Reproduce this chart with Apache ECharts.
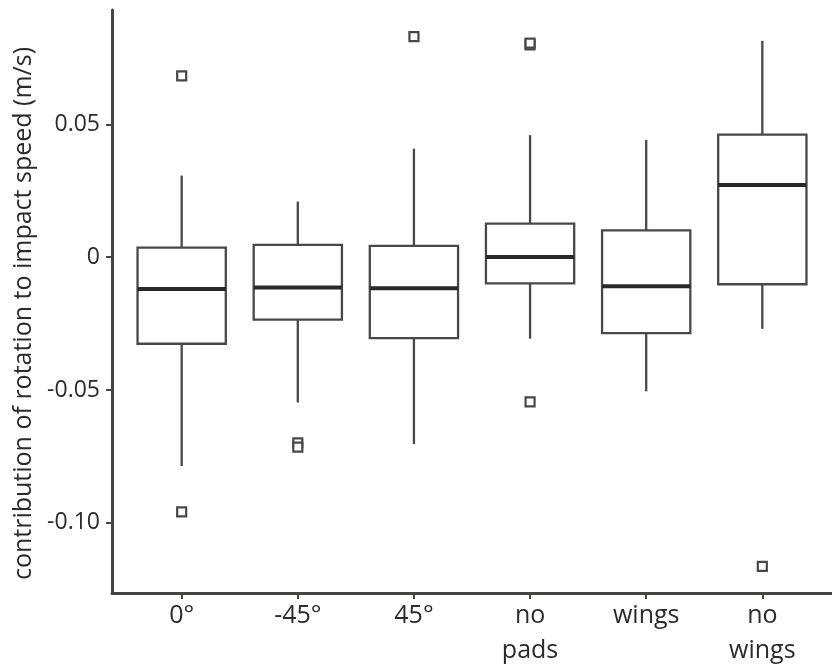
<!DOCTYPE html>
<html>
<head>
<meta charset="utf-8">
<script src="https://cdn.jsdelivr.net/npm/echarts@6/dist/echarts.min.js"></script>
<style>
  html, body { margin: 0; padding: 0; background: #fff; }
  #chart { width: 832px; height: 668px; }
</style>
</head>
<body>
<div id="chart"></div>
<script>
// ---- data ----
const categories = ['0°', '-45°', '45°', 'no\npads', 'wings', 'no\nwings'];
const whiskerLow  = [-0.0786, -0.0547, -0.0704, -0.0307, -0.0505, -0.0270];
const q1          = [-0.0326, -0.0235, -0.0305, -0.0099, -0.0286, -0.0102];
const median      = [-0.0120, -0.0114, -0.0117,  0.0000, -0.0110,  0.0271];
const q3          = [ 0.0036,  0.0046,  0.0042,  0.0126,  0.0101,  0.0461];
const whiskerHigh = [ 0.0307,  0.0209,  0.0408,  0.0459,  0.0441,  0.0814];
const outlierCategory = [0, 0, 1, 1, 2, 3, 3, 3, 5];
const outlierValue    = [0.0682, -0.0959, -0.0699, -0.0715, 0.0830, 0.0799, 0.0805, -0.0545, -0.1164];
const yTickValues = [-0.10, -0.05, 0, 0.05];
const yTickLabels = ['-0.10', '-0.05', '0', '0.05'];
const yAxisTitle = 'contribution of rotation to impact speed (m/s)';

// ---- build ----
const catIdx = categories.map((c, i) => i);
const boxData = categories.map((c, i) => [i, whiskerLow[i], q1[i], median[i], q3[i], whiskerHigh[i]]);
const outlierData = outlierCategory.map((c, i) => [c, outlierValue[i]]);

const FONT = 'Open Sans';
const AXIS_COLOR = '#474444';
const BOX_COLOR = '#4a4747';
const TEXT_COLOR = '#2b2b2b';

function renderBox(params, api) {
  const x = api.value(0);
  const lo = api.coord([x, api.value(1)]);
  const b = api.coord([x, api.value(2)]);
  const m = api.coord([x, api.value(3)]);
  const t = api.coord([x, api.value(4)]);
  const hi = api.coord([x, api.value(5)]);
  const w = api.size([1, 0])[0] * 0.76;
  const cx = lo[0];
  const stroke = { stroke: BOX_COLOR, lineWidth: 2.3, fill: null };
  return {
    type: 'group',
    children: [
      { type: 'line', shape: { x1: cx, y1: hi[1], x2: cx, y2: t[1] }, style: stroke },
      { type: 'line', shape: { x1: cx, y1: b[1], x2: cx, y2: lo[1] }, style: stroke },
      { type: 'rect', shape: { x: cx - w / 2, y: t[1], width: w, height: b[1] - t[1] },
        style: { stroke: BOX_COLOR, lineWidth: 2.3, fill: '#fff' } },
      { type: 'line', shape: { x1: cx - w / 2, y1: m[1], x2: cx + w / 2, y2: m[1] },
        style: { stroke: '#2a2828', lineWidth: 4, fill: null } }
    ]
  };
}

const chart = echarts.init(document.getElementById('chart'), null, { renderer: 'canvas' });
chart.setOption({
  backgroundColor: '#fff',
  animation: false,
  grid: { left: 112, right: -9, top: 10, bottom: 73, containLabel: false },
  xAxis: {
    type: 'value', min: -0.6, max: 5.6,
    splitLine: { show: false },
    axisLine: { show: true, onZero: false, lineStyle: { color: AXIS_COLOR, width: 3 } },
    axisTick: { show: true, customValues: catIdx, length: 6, lineStyle: { color: AXIS_COLOR, width: 2 } },
    axisLabel: {
      customValues: catIdx,
      formatter: v => categories[Math.round(v)],
      fontFamily: FONT, fontSize: 25, lineHeight: 35, color: TEXT_COLOR, margin: 5
    }
  },
  yAxis: {
    type: 'value', min: -0.1264, max: 0.0930,
    splitLine: { show: false },
    axisLine: { show: true, onZero: false, lineStyle: { color: AXIS_COLOR, width: 3 } },
    axisTick: { show: true, customValues: yTickValues, length: 6, lineStyle: { color: AXIS_COLOR, width: 2 } },
    axisLabel: {
      customValues: yTickValues,
      formatter: v => {
        let best = 0;
        yTickValues.forEach((t, i) => { if (Math.abs(t - v) < Math.abs(yTickValues[best] - v)) best = i; });
        return yTickLabels[best];
      },
      fontFamily: FONT, fontSize: 23, color: TEXT_COLOR, margin: 12
    },
    name: yAxisTitle,
    nameLocation: 'middle',
    nameGap: 76,
    nameTextStyle: { fontFamily: FONT, fontSize: 25, color: TEXT_COLOR, padding: [0, 24, 0, 0] }
  },
  series: [
    {
      type: 'custom',
      renderItem: renderBox,
      data: boxData,
      encode: { x: 0, y: [1, 2, 3, 4, 5] },
      z: 2
    },
    {
      type: 'scatter',
      data: outlierData,
      symbol: 'rect',
      symbolSize: 9,
      itemStyle: { color: '#fff', borderColor: BOX_COLOR, borderWidth: 2.2, opacity: 1 },
      z: 3
    }
  ]
});
</script>
</body>
</html>
